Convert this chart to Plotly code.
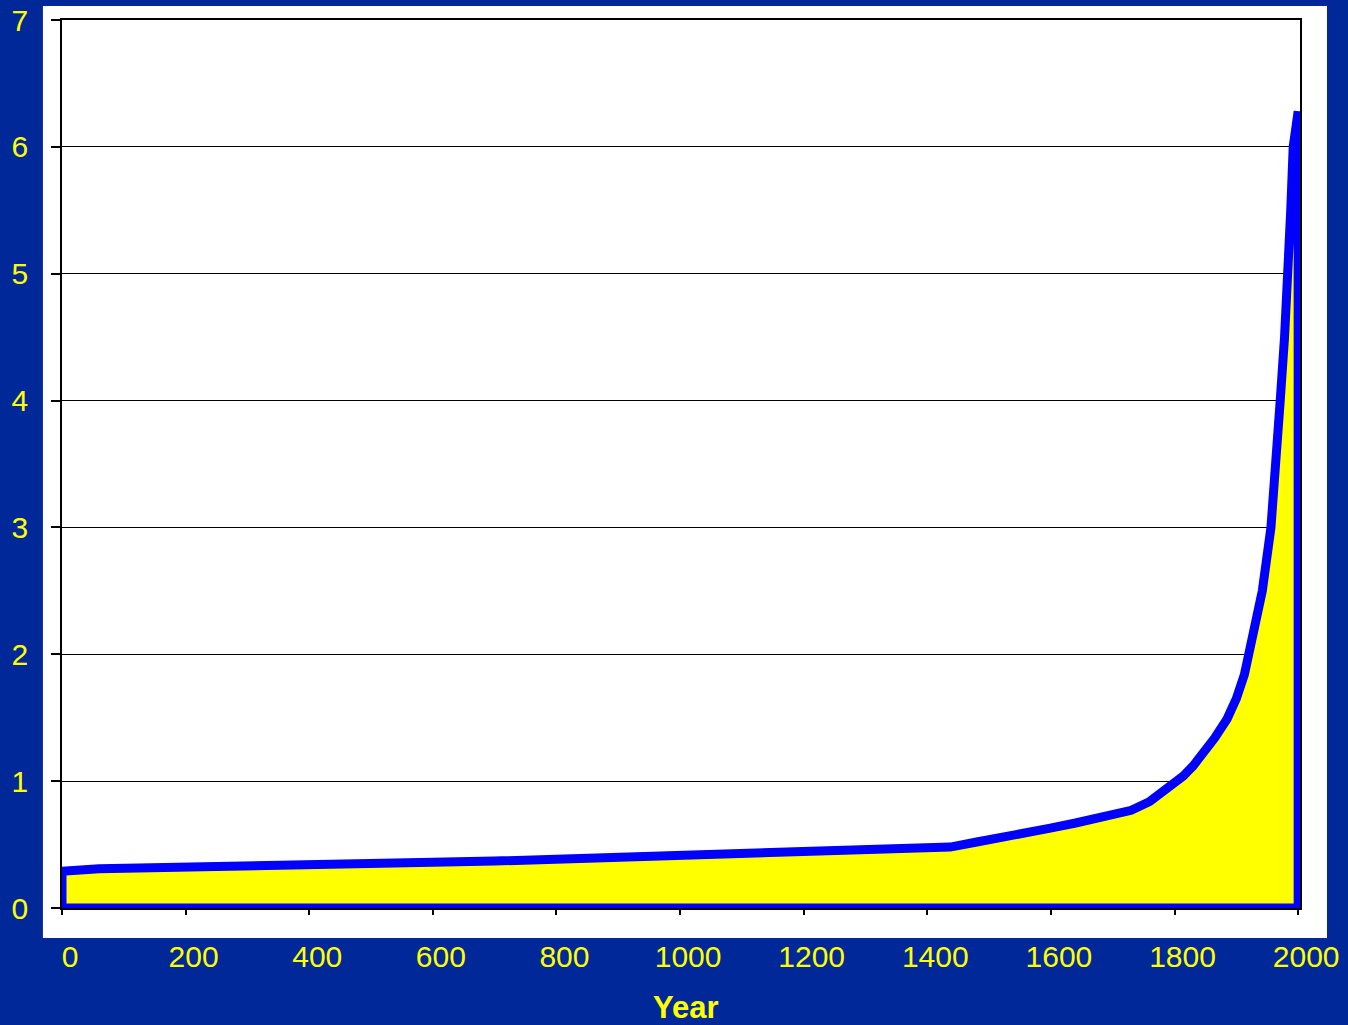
import plotly.graph_objects as go

years = [0, 60, 100, 200, 300, 400, 500, 600, 700, 800, 900, 1000, 1100, 1200, 1250,
         1300, 1350, 1400, 1437, 1480, 1518, 1560, 1599, 1640, 1680, 1730, 1760, 1790,
         1800, 1814, 1830, 1848, 1865, 1885, 1900, 1913, 1920, 1942, 1956, 1965, 1971,
         1978, 1984, 1988, 1992, 1997, 2000]
population = [0.29, 0.31, 0.315, 0.32, 0.33, 0.34, 0.35, 0.36, 0.37, 0.385, 0.395, 0.41,
              0.42, 0.43, 0.435, 0.445, 0.455, 0.465, 0.48, 0.52, 0.56, 0.595, 0.63,
              0.67, 0.71, 0.77, 0.84, 0.95, 0.99, 1.04, 1.12, 1.23, 1.34, 1.49, 1.65,
              1.84, 2.0, 2.5, 3.0, 3.5, 4.0, 4.5, 5.0, 5.5, 6.0, 6.26, 6.28]

x_ticks = [0, 200, 400, 600, 800, 1000, 1200, 1400, 1600, 1800, 2000]
y_ticks = [0, 1, 2, 3, 4, 5, 6, 7]
x_title = "Year"

BG = "#002899"
YEL = "#FFFF00"
BLUE = "#0000FF"

# closed polygon: baseline -> curve -> drop to baseline
px = [years[0]] + years + [years[-1], years[0]]
py = [0] + population + [0, 0]

fig = go.Figure()
fig.add_trace(go.Scatter(
    x=px, y=py, mode="lines", fill="toself", fillcolor=YEL,
    line=dict(color=BLUE, width=9), cliponaxis=False, hoverinfo="skip",
    showlegend=False,
))

fig.update_layout(
    width=1348, height=1025,
    margin=dict(l=62, r=48, t=20, b=117, autoexpand=False),
    paper_bgcolor=BG, plot_bgcolor="white",
    font=dict(family="Liberation Sans, Arial, sans-serif", color=YEL, size=30),
    showlegend=False,
    shapes=[dict(type="rect", xref="paper", yref="paper",
                 x0=-0.0154, x1=1.0218, y0=-0.0338, y1=1.0158,
                 fillcolor="white", line=dict(width=0), layer="below")],
    annotations=[dict(text="<b>%s</b>" % x_title, xref="paper", yref="paper",
                      x=0.5044, y=-0.1115, xanchor="center", yanchor="middle",
                      showarrow=False, font=dict(size=31, color=YEL))],
)
fig.update_xaxes(
    range=[0, 2003], tickvals=x_ticks, ticktext=[str(v) for v in x_ticks],
    showgrid=False, zeroline=False, showline=True, mirror=True,
    linecolor="black", linewidth=1.5, automargin=False,
    ticks="outside", ticklen=5, tickcolor="black", tickwidth=1.5,
    ticklabelshift=8, ticklabelstandoff=16,
    tickfont=dict(size=30, color=YEL),
)
fig.update_yaxes(
    range=[0, 7], tickvals=y_ticks, ticktext=[str(v) for v in y_ticks],
    showgrid=True, gridcolor="black", gridwidth=1.3, zeroline=False,
    showline=True, mirror=True, linecolor="black", linewidth=1.5, automargin=False,
    ticks="outside", ticklen=9, tickcolor="black", tickwidth=1.5,
    ticklabelstandoff=17,
    tickfont=dict(size=30, color=YEL),
)

fig.write_html(
    "out.html",
    config={"displayModeBar": False},
    post_script="document.body.style.margin='0';document.body.style.background='%s';" % BG,
)
